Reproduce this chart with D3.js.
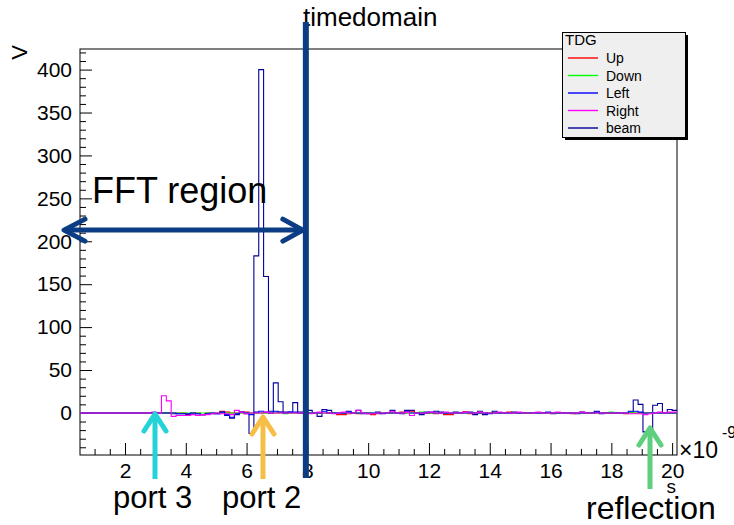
<!DOCTYPE html>
<html>
<head>
<meta charset="utf-8">
<script src="https://cdn.jsdelivr.net/npm/d3@7"></script>
<style>
  body { margin: 0; background: #fff; }
  svg { font-family: "Liberation Sans", Arial, Helvetica, sans-serif; }
  .axis text { font-size: 21px; fill: #000; }
  .axis line { stroke: #000; }
</style>
</head>
<body>
<div id="chart"></div>
<script>
// histogram binning: 123 bins of 0.16 ns, starting at 0.48 (x 1e-9 s)
var binStart = 0.48, binWidth = 0.16;

var seriesNames = ["Up", "Down", "Left", "Right", "beam"];
var seriesColors = ["#ff0000", "#00ff00", "#0000ff", "#ff00ff", "#000099"];

var up = [
  0,0,0,0,0,0,0,0,0,0,
  0,0,0,0,0,0,0,0,0,0,
  0,0,-1,0,0,-2,0,0,0,2,
  1,0,0,0,1,0,0,0,0,0,
  0,1,0,0,0,0,0,0,0,0,
  0,0,0,-2,-2,-1,0,-1,0,0,
  -2,-1,0,0,0,0,1,0,2,0,
  0,0,0,-1,0,-2,-2,0,0,1,
  -1,0,0,0,0,0,0,0,1,0,
  0,0,0,0,0,0,0,0,0,0,
  0,-1,0,0,0,0,0,0,0,0,
  0,0,-1,0,0,0,0,0,0,0,
  0,0,0
];
var down = [
  0,0,0,0,0,0,0,0,0,0,
  0,0,0,0,0,0,0,0,0,0,
  0,0,0,0,0,0,0,0,0,0,
  0,0,0,0,0,0,0,0,0,0,
  1,0,-1,0,0,0,0,0,0,0,
  0,0,0,0,0,0,0,0,0,0,
  0,0,0,0,0,0,0,0,0,0,
  1,0,0,0,0,0,0,0,0,0,
  0,0,0,0,0,0,0,0,0,0,
  0,0,0,0,0,0,0,0,0,0,
  0,0,0,0,0,0,0,0,0,1,
  0,0,0,1,0,0,0,0,0,0,
  0,0,0
];
var left = [
  0,0,0,0,0,0,0,0,0,0,
  0,0,0,0,0,0,0,0,0,0,
  -1,-1,-1,0,-1,-2,-1,0,-1,1,
  -2,-5,-1,1,0,-2,1,2,1,0,
  2,1,0,1,1,0,0,0,0,0,
  2,0,0,0,0,1,0,0,0,0,
  0,0,-1,0,0,0,0,2,0,0,
  0,0,1,0,0,0,0,0,0,0,
  0,0,0,0,-1,0,0,0,0,0,
  0,0,0,0,0,0,1,0,0,0,
  0,0,0,0,0,0,1,0,0,0,
  0,0,0,2,2,1,0,0,0,0,
  0,0,0
];
var right = [
  0,0,0,0,0,0,0,0,0,0,
  0,0,0,0,0,1,0,20,14,-4,
  -3,-3,-3,-2,-3,-2,-2,-1,0,-1,
  -1,-2,3,1,-1,0,0,0,1,0,
  0,0,0,0,0,0,1,-1,0,1,
  0,0,-1,0,1,0,0,3,0,-1,
  -1,0,0,0,2,0,0,1,-3,0,
  0,0,1,0,0,1,0,0,0,1,
  0,0,1,0,0,0,1,0,0,0,
  1,0,0,0,1,0,0,0,1,0,
  0,0,0,1,0,0,0,0,0,0,
  0,0,0,-1,-1,-1,-2,-1,0,1,
  0,1,1
];
var beam = [
  0,0,0,0,0,0,0,0,0,0,
  0,0,0,0,0,0,0,0,0,-1,
  -1,-1,-2,-1,-1,-2,-1,-1,-1,1,
  -3,-6,-2,1,-1,-24,183,400,159,2,
  35,13,1,1,12,1,1,3,0,-4,
  4,3,0,0,-1,2,0,3,-1,-1,
  -1,1,0,0,3,0,-1,3,3,0,
  -2,1,0,2,1,-1,-1,1,0,1,
  1,-2,2,-2,0,2,0,0,0,1,
  0,0,0,0,0,0,0,-1,0,0,
  0,0,-1,1,0,0,2,-1,0,0,
  0,0,0,1,15,10,-22,-22,9,11,
  0,4,3
];
var seriesValues = [up, down, left, right, beam];

var xMajorTicks = [2, 4, 6, 8, 10, 12, 14, 16, 18, 20];
var yMajorTicks = [0, 50, 100, 150, 200, 250, 300, 350, 400];

var svg = d3.select("#chart").append("svg")
  .attr("width", 734)
  .attr("height", 525);

var frame = {left: 80, right: 677, top: 49, bottom: 455};

var x = d3.scaleLinear().domain([0.52, 20.16]).range([frame.left, frame.right]);
var y = d3.scaleLinear().domain([-49, 424]).range([frame.bottom, frame.top]);

svg.append("defs").append("clipPath").attr("id", "plotclip")
  .append("rect")
  .attr("x", frame.left).attr("y", frame.top)
  .attr("width", frame.right - frame.left)
  .attr("height", frame.bottom - frame.top);

// minor ticks
var xMinor = d3.range(1, 20.01, 0.5).filter(function(v) { return v % 2 !== 0; });
var yMinor = d3.range(-40, 421, 10).filter(function(v) { return v % 50 !== 0; });

svg.append("g")
  .attr("class", "axis")
  .attr("transform", "translate(0," + frame.bottom + ")")
  .call(d3.axisBottom(x).tickValues(xMinor).tickSize(-6).tickFormat(""))
  .call(function(g) { g.select(".domain").remove(); });

svg.append("g")
  .attr("class", "axis")
  .attr("transform", "translate(0," + frame.bottom + ")")
  .call(d3.axisBottom(x).tickValues(xMajorTicks).tickSize(-12).tickPadding(8).tickFormat(d3.format("d")))
  .call(function(g) { g.select(".domain").remove(); });

svg.append("g")
  .attr("class", "axis")
  .attr("transform", "translate(" + frame.left + ",0)")
  .call(d3.axisLeft(y).tickValues(yMinor).tickSize(-6).tickFormat(""))
  .call(function(g) { g.select(".domain").remove(); });

svg.append("g")
  .attr("class", "axis")
  .attr("transform", "translate(" + frame.left + ",0)")
  .call(d3.axisLeft(y).tickValues(yMajorTicks).tickSize(-12).tickPadding(8).tickFormat(d3.format("d")))
  .call(function(g) { g.select(".domain").remove(); });

// frame
svg.append("rect")
  .attr("x", frame.left).attr("y", frame.top)
  .attr("width", frame.right - frame.left)
  .attr("height", frame.bottom - frame.top)
  .attr("fill", "none")
  .attr("stroke", "#000")
  .attr("stroke-width", 1);

// step histograms
var step = d3.line()
  .x(function(d) { return x(d[0]); })
  .y(function(d) { return y(d[1]); })
  .curve(d3.curveStepAfter);

function binPoints(vals) {
  var pts = vals.map(function(v, i) { return [binStart + i * binWidth, v]; });
  pts.push([binStart + vals.length * binWidth, vals[vals.length - 1]]);
  return pts;
}

var drawOrder = [4, 0, 1, 2, 3];
var hists = svg.append("g").attr("clip-path", "url(#plotclip)");
drawOrder.forEach(function(k) {
  hists.append("path")
    .attr("d", step(binPoints(seriesValues[k])))
    .attr("fill", "none")
    .attr("stroke", seriesColors[k])
    .attr("stroke-width", 1.1);
});

// axis titles
svg.append("text")
  .attr("transform", "translate(27,45) rotate(-90)")
  .style("text-anchor", "end")
  .style("font-size", "22px")
  .text("V");

svg.append("text")
  .attr("x", frame.right - 1)
  .attr("y", 493)
  .style("text-anchor", "end")
  .style("font-size", "19px")
  .text("s");

svg.append("text")
  .attr("x", 679)
  .attr("y", 458)
  .style("font-size", "23px")
  .text("\u00d710");

svg.append("text")
  .attr("x", 722)
  .attr("y", 438)
  .style("font-size", "16px")
  .text("-9");

// title
svg.append("text")
  .attr("x", 303)
  .attr("y", 26)
  .style("font-size", "26px")
  .text("timedomain");

// legend
var lg = svg.append("g");
lg.append("rect")
  .attr("x", 565).attr("y", 35)
  .attr("width", 123).attr("height", 105)
  .attr("fill", "#000");
lg.append("rect")
  .attr("x", 562.5).attr("y", 32.5)
  .attr("width", 123).attr("height", 105)
  .attr("fill", "#efefef")
  .attr("stroke", "#000")
  .attr("stroke-width", 1);
lg.append("text")
  .attr("x", 565).attr("y", 45)
  .style("font-size", "15px")
  .text("TDG");

var rows = lg.selectAll(".legendrow")
  .data(seriesNames)
  .enter().append("g")
  .attr("class", "legendrow")
  .attr("transform", function(d, i) { return "translate(0," + (58 + i * 17.5) + ")"; });

rows.append("line")
  .attr("x1", 568).attr("x2", 598)
  .attr("stroke", function(d, i) { return seriesColors[i]; })
  .attr("stroke-width", 1.4);

rows.append("text")
  .attr("x", 606)
  .attr("y", 5)
  .style("font-size", "14px")
  .text(function(d) { return d; });

// annotations
var navy = "#0b3c84";
var lineX = x(7.95);

svg.append("line")
  .attr("x1", lineX).attr("x2", lineX)
  .attr("y1", 22).attr("y2", 478)
  .attr("stroke", navy)
  .attr("stroke-width", 6);

var arrowY = y(213);
svg.append("line")
  .attr("x1", 64).attr("x2", lineX - 4)
  .attr("y1", arrowY).attr("y2", arrowY)
  .attr("stroke", navy)
  .attr("stroke-width", 5);
svg.append("path")
  .attr("d", "M" + (lineX - 23) + "," + (arrowY - 11) + "L" + (lineX - 3) + "," + arrowY + "L" + (lineX - 23) + "," + (arrowY + 11))
  .attr("fill", "none").attr("stroke", navy).attr("stroke-width", 5)
  .attr("stroke-linecap", "round").attr("stroke-linejoin", "round");
svg.append("path")
  .attr("d", "M85," + (arrowY - 11) + "L64," + arrowY + "L85," + (arrowY + 11))
  .attr("fill", "none").attr("stroke", navy).attr("stroke-width", 5)
  .attr("stroke-linecap", "round").attr("stroke-linejoin", "round");

svg.append("text")
  .attr("x", 92)
  .attr("y", 203)
  .style("font-size", "36px")
  .text("FFT region");

var arrows = [
  {tip: [155, 414], bottom: 479, color: "#24d3d8", label: "port 3", lx: 113, ly: 508},
  {tip: [263, 417], bottom: 479, color: "#f6be47", label: "port 2", lx: 222, ly: 508},
  {tip: [650, 428], bottom: 489, color: "#5dcf7f", label: "reflection", lx: 586, ly: 519}
];

arrows.forEach(function(a) {
  svg.append("line")
    .attr("x1", a.tip[0]).attr("x2", a.tip[0])
    .attr("y1", a.tip[1] + 3).attr("y2", a.bottom)
    .attr("stroke", a.color).attr("stroke-width", 5);
  svg.append("path")
    .attr("d", "M" + (a.tip[0] - 11) + "," + (a.tip[1] + 17) + "L" + a.tip[0] + "," + a.tip[1] + "L" + (a.tip[0] + 11) + "," + (a.tip[1] + 17))
    .attr("fill", "none").attr("stroke", a.color).attr("stroke-width", 5)
    .attr("stroke-linecap", "round").attr("stroke-linejoin", "round");
  svg.append("text")
    .attr("x", a.lx).attr("y", a.ly)
    .style("font-size", a.label === "reflection" ? "32px" : "31px")
    .text(a.label);
});
</script>
</body>
</html>
